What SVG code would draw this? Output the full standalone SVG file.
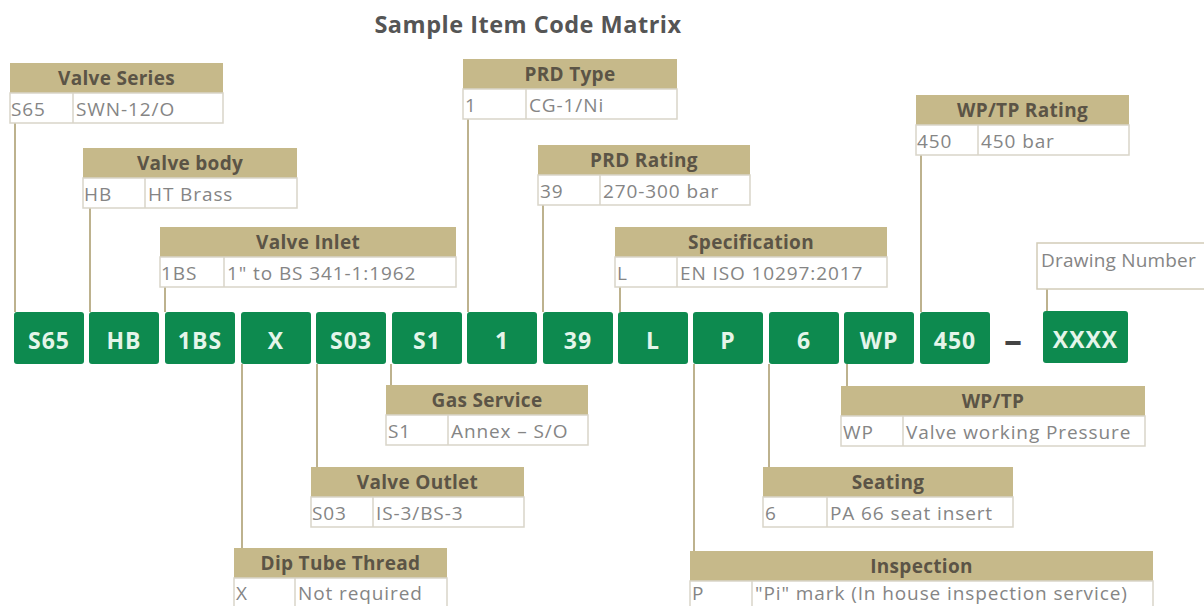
<svg xmlns="http://www.w3.org/2000/svg" width="1204" height="606" viewBox="0 0 1204 606">
<style>
.title{font-family:"Open Sans","Liberation Sans",sans-serif;font-weight:bold;font-size:23.5px;letter-spacing:0.5px;fill:#555555}
.hdr{fill:#c6b98a}
.hdrt{font-family:"Open Sans","Liberation Sans",sans-serif;font-weight:bold;font-size:19px;letter-spacing:0.3px;fill:#5b5446;text-anchor:middle}
.body{fill:#ffffff;stroke:#d9d5c9;stroke-width:1.5}
.bt{font-family:"Open Sans","Liberation Sans",sans-serif;font-size:19px;letter-spacing:0.9px;fill:#858585}
.code{fill:#0d8a4f}
.codet{font-family:"Open Sans","Liberation Sans",sans-serif;font-weight:bold;font-size:23px;letter-spacing:1px;fill:#e4f5ea;text-anchor:middle}
.conn{stroke:#bdb28e;stroke-width:2;fill:none}
</style>
<rect width="1204" height="606" fill="#ffffff"/>
<text class="title" x="528" y="33" text-anchor="middle">Sample Item Code Matrix</text>

<g id="connectors">
<line class="conn" x1="15" y1="123" x2="15" y2="312"/>
<line class="conn" x1="90" y1="208" x2="90" y2="312"/>
<line class="conn" x1="165" y1="287" x2="165" y2="312"/>
<line class="conn" x1="468" y1="119" x2="468" y2="312"/>
<line class="conn" x1="543" y1="205" x2="543" y2="312"/>
<line class="conn" x1="620" y1="287" x2="620" y2="312"/>
<line class="conn" x1="921" y1="155" x2="921" y2="312"/>
<line class="conn" x1="1047" y1="289" x2="1047" y2="311"/>
<line class="conn" x1="391" y1="364" x2="391" y2="385"/>
<line class="conn" x1="317" y1="364" x2="317" y2="467"/>
<line class="conn" x1="242" y1="364" x2="242" y2="548"/>
<line class="conn" x1="847" y1="364" x2="847" y2="386"/>
<line class="conn" x1="769" y1="364" x2="769" y2="467"/>
<line class="conn" x1="694" y1="364" x2="694" y2="551"/>
</g>

<g id="code-row">
<g id="c-s65"><rect class="code" x="14" y="312" width="70" height="52" rx="3"/><text class="codet" x="49" y="349">S65</text></g>
<g id="c-hb"><rect class="code" x="89" y="312" width="70" height="52" rx="3"/><text class="codet" x="124" y="349">HB</text></g>
<g id="c-1bs"><rect class="code" x="165" y="312" width="70" height="52" rx="3"/><text class="codet" x="200" y="349">1BS</text></g>
<g id="c-x"><rect class="code" x="241" y="312" width="70" height="52" rx="3"/><text class="codet" x="276" y="349">X</text></g>
<g id="c-s03"><rect class="code" x="316" y="312" width="70" height="52" rx="3"/><text class="codet" x="351" y="349">S03</text></g>
<g id="c-s1"><rect class="code" x="392" y="312" width="70" height="52" rx="3"/><text class="codet" x="427" y="349">S1</text></g>
<g id="c-1"><rect class="code" x="467" y="312" width="70" height="52" rx="3"/><text class="codet" x="502" y="349">1</text></g>
<g id="c-39"><rect class="code" x="543" y="312" width="70" height="52" rx="3"/><text class="codet" x="578" y="349">39</text></g>
<g id="c-l"><rect class="code" x="618" y="312" width="70" height="52" rx="3"/><text class="codet" x="653" y="349">L</text></g>
<g id="c-p"><rect class="code" x="693" y="312" width="70" height="52" rx="3"/><text class="codet" x="728" y="349">P</text></g>
<g id="c-6"><rect class="code" x="769" y="312" width="70" height="52" rx="3"/><text class="codet" x="804" y="349">6</text></g>
<g id="c-wp"><rect class="code" x="844" y="312" width="70" height="52" rx="3"/><text class="codet" x="879" y="349">WP</text></g>
<g id="c-450"><rect class="code" x="920" y="312" width="70" height="52" rx="3"/><text class="codet" x="955" y="349">450</text></g>
<text x="1013" y="353" text-anchor="middle" font-family="Open Sans, Liberation Sans, sans-serif" font-weight="bold" font-size="36" fill="#444444">–</text>
<g id="c-xxxx"><rect class="code" x="1043" y="311" width="85" height="52" rx="3"/><text class="codet" x="1085.5" y="348">XXXX</text></g>
</g>

<g id="valve-series"><rect class="hdr" x="10" y="63" width="213" height="30"/><text class="hdrt" x="116.5" y="85">Valve Series</text><rect class="body" x="10" y="93" width="213" height="30"/><line class="body" x1="73" y1="93" x2="73" y2="123"/><text class="bt" x="11" y="116">S65</text><text class="bt" x="76" y="116">SWN-12/O</text></g>

<g id="valve-body"><rect class="hdr" x="83" y="148" width="214" height="30"/><text class="hdrt" x="190" y="170">Valve body</text><rect class="body" x="83" y="178" width="214" height="30"/><line class="body" x1="145" y1="178" x2="145" y2="208"/><text class="bt" x="84" y="201">HB</text><text class="bt" x="148" y="201">HT Brass</text></g>

<g id="valve-inlet"><rect class="hdr" x="160" y="227" width="296" height="30"/><text class="hdrt" x="308" y="249">Valve Inlet</text><rect class="body" x="160" y="257" width="296" height="30"/><line class="body" x1="224" y1="257" x2="224" y2="287"/><text class="bt" x="161" y="280">1BS</text><text class="bt" x="227" y="280">1" to BS 341-1:1962</text></g>

<g id="prd-type"><rect class="hdr" x="463" y="59" width="214" height="30"/><text class="hdrt" x="570" y="81">PRD Type</text><rect class="body" x="463" y="89" width="214" height="30"/><line class="body" x1="526" y1="89" x2="526" y2="119"/><text class="bt" x="465" y="112">1</text><text class="bt" x="529" y="112">CG-1/Ni</text></g>

<g id="prd-rating"><rect class="hdr" x="538" y="145" width="212" height="30"/><text class="hdrt" x="644" y="167">PRD Rating</text><rect class="body" x="538" y="175" width="212" height="30"/><line class="body" x1="600" y1="175" x2="600" y2="205"/><text class="bt" x="540" y="198">39</text><text class="bt" x="603" y="198">270-300 bar</text></g>

<g id="specification"><rect class="hdr" x="615" y="227" width="272" height="30"/><text class="hdrt" x="751" y="249">Specification</text><rect class="body" x="615" y="257" width="272" height="30"/><line class="body" x1="677" y1="257" x2="677" y2="287"/><text class="bt" x="617" y="280">L</text><text class="bt" x="680" y="280">EN ISO 10297:2017</text></g>

<g id="wptp-rating"><rect class="hdr" x="916" y="95" width="213" height="30"/><text class="hdrt" x="1022.5" y="117">WP/TP Rating</text><rect class="body" x="916" y="125" width="213" height="30"/><line class="body" x1="978" y1="125" x2="978" y2="155"/><text class="bt" x="917" y="148">450</text><text class="bt" x="981" y="148">450 bar</text></g>

<g id="drawing-number"><rect x="1037" y="243" width="180" height="46" fill="#ffffff" stroke="#d2ccb8" stroke-width="1.5"/><text class="bt" x="1041" y="267" style="letter-spacing:0.2px">Drawing Number</text></g>

<g id="gas-service"><rect class="hdr" x="386" y="385" width="202" height="30"/><text class="hdrt" x="487" y="407">Gas Service</text><rect class="body" x="386" y="415" width="202" height="30"/><line class="body" x1="448" y1="415" x2="448" y2="445"/><text class="bt" x="388" y="438">S1</text><text class="bt" x="451" y="438">Annex – S/O</text></g>

<g id="valve-outlet"><rect class="hdr" x="311" y="467" width="213" height="30"/><text class="hdrt" x="417.5" y="489">Valve Outlet</text><rect class="body" x="311" y="497" width="213" height="30"/><line class="body" x1="373" y1="497" x2="373" y2="527"/><text class="bt" x="312" y="520">S03</text><text class="bt" x="376" y="520">IS-3/BS-3</text></g>

<g id="dip-tube"><rect class="hdr" x="234" y="548" width="213" height="30"/><text class="hdrt" x="340.5" y="570">Dip Tube Thread</text><rect class="body" x="234" y="578" width="213" height="30"/><line class="body" x1="295" y1="578" x2="295" y2="608"/><text class="bt" x="236" y="600">X</text><text class="bt" x="298" y="600">Not required</text></g>

<g id="wptp"><rect class="hdr" x="841" y="386" width="304" height="30"/><text class="hdrt" x="993" y="408">WP/TP</text><rect class="body" x="841" y="416" width="304" height="30"/><line class="body" x1="903" y1="416" x2="903" y2="446"/><text class="bt" x="843" y="439">WP</text><text class="bt" x="906" y="439">Valve working Pressure</text></g>

<g id="seating"><rect class="hdr" x="763" y="467" width="250" height="30"/><text class="hdrt" x="888" y="489">Seating</text><rect class="body" x="763" y="497" width="250" height="30"/><line class="body" x1="827" y1="497" x2="827" y2="527"/><text class="bt" x="765" y="520">6</text><text class="bt" x="830" y="520">PA 66 seat insert</text></g>

<g id="inspection"><rect class="hdr" x="690" y="551" width="463" height="30"/><text class="hdrt" x="921.5" y="573">Inspection</text><rect class="body" x="690" y="581" width="463" height="30"/><line class="body" x1="752" y1="581" x2="752" y2="611"/><text class="bt" x="692" y="600">P</text><text class="bt" x="755" y="600">"Pi" mark (In house inspection service)</text></g>
</svg>
